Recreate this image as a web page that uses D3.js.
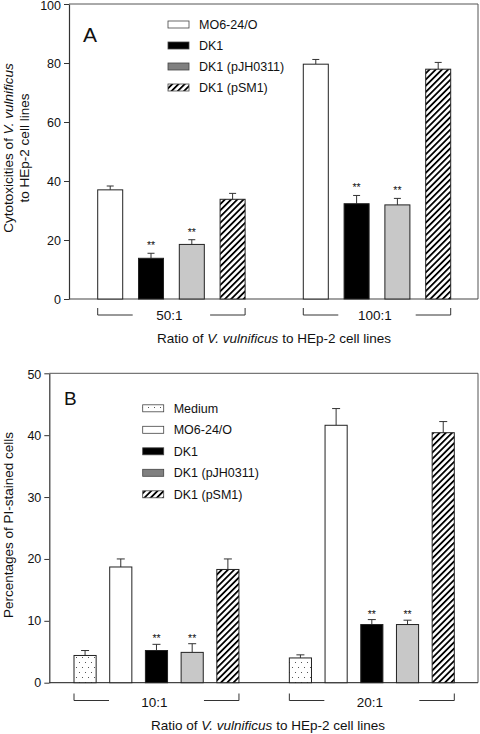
<!DOCTYPE html>
<html><head><meta charset="utf-8">
<script src="https://cdn.jsdelivr.net/npm/d3@7"></script>
<style>
html,body{margin:0;padding:0;background:#fff;}
text{font-family:"Liberation Sans",Arial,sans-serif;fill:#111;}
</style></head>
<body>
<svg id="chart" width="480" height="734"></svg>
<script>
// ---------- data ----------
const groupsA = ["50:1", "100:1"];
const seriesA = ["MO6-24/O", "DK1", "DK1 (pJH0311)", "DK1 (pSM1)"];
const valuesA = [[37.0, 13.8, 18.5, 33.8], [79.6, 32.3, 31.9, 77.9]];
const errorsA = [[1.3, 1.7, 1.6, 2.0], [1.6, 2.8, 2.2, 2.3]];
const starsA = [false, true, true, false];
const ticksA = [0, 20, 40, 60, 80, 100];

const groupsB = ["10:1", "20:1"];
const seriesB = ["Medium", "MO6-24/O", "DK1", "DK1 (pJH0311)", "DK1 (pSM1)"];
const valuesB = [[4.4, 18.7, 5.2, 4.9, 18.3], [4.0, 41.6, 9.4, 9.4, 40.4]];
const errorsB = [[0.8, 1.3, 1.0, 1.4, 1.7], [0.5, 2.7, 0.8, 0.7, 1.8]];
const starsB = [false, false, true, true, false];
const ticksB = [0, 10, 20, 30, 40, 50];

const xTitle = ["Ratio of ", "V. vulnificus", " to HEp-2 cell lines"];

// ---------- styles ----------
const svg = d3.select("#chart");
const defs = svg.append("defs");
const hatch = defs.append("pattern").attr("id", "hatch").attr("patternUnits", "userSpaceOnUse")
  .attr("width", 4.4).attr("height", 4.4).attr("patternTransform", "rotate(45)");
hatch.append("rect").attr("width", 4.4).attr("height", 4.4).attr("fill", "#fff");
hatch.append("rect").attr("x", 0).attr("width", 1.8).attr("height", 4.4).attr("fill", "#000");
const dots = defs.append("pattern").attr("id", "dots").attr("patternUnits", "userSpaceOnUse")
  .attr("width", 6).attr("height", 10);
dots.append("rect").attr("width", 6).attr("height", 10).attr("fill", "#fff");
dots.append("rect").attr("x", 1).attr("y", 2).attr("width", 1).attr("height", 1).attr("fill", "#555");
dots.append("rect").attr("x", 4).attr("y", 7).attr("width", 1).attr("height", 1).attr("fill", "#555");

const barFill = {"Medium": "url(#dots)", "MO6-24/O": "#fff", "DK1": "#000", "DK1 (pJH0311)": "#c8c8c8", "DK1 (pSM1)": "url(#hatch)"};
const legFill = {"Medium": "url(#dots)", "MO6-24/O": "#fff", "DK1": "#000", "DK1 (pJH0311)": "#808080", "DK1 (pSM1)": "url(#hatch)"};

function panel(cfg) {
  const g = svg.append("g");
  const y = d3.scaleLinear().domain([0, cfg.max]).range([cfg.y0, cfg.y1]);
  const gx = d3.scaleBand().domain(cfg.groups).range([cfg.gx0, cfg.gx1]).paddingInner(cfg.gPad).paddingOuter(0);
  const sx = d3.scaleBand().domain(cfg.series).range([0, gx.bandwidth()]).paddingInner(cfg.sPad).paddingOuter(0);

  // frame
  g.append("path").attr("d", `M${cfg.left},${cfg.y1}H${cfg.right}V${cfg.y0}`)
    .attr("fill", "none").attr("stroke", "#555").attr("stroke-width", 1);
  g.append("line").attr("x1", cfg.left).attr("x2", cfg.right).attr("y1", cfg.y0).attr("y2", cfg.y0)
    .attr("stroke", "#444").attr("stroke-width", 1.2);

  // y axis
  const ax = g.append("g").attr("transform", `translate(${cfg.left},0)`)
    .call(d3.axisLeft(y).tickValues(cfg.ticks).tickSize(5).tickSizeOuter(0).tickPadding(3));
  ax.select(".domain").attr("stroke", "#333").attr("stroke-width", 1.2);
  ax.selectAll(".tick line").attr("stroke", "#333");
  ax.selectAll("text").attr("font-size", 12.5).style("font-family", "'Liberation Sans',Arial,sans-serif").attr("fill", "#222");
  // keep the top label inside the picture
  ax.selectAll(".tick").filter(d => d === cfg.max).select("text").attr("dy", "0.45em");

  // bars
  cfg.groups.forEach((grp, gi) => {
    cfg.series.forEach((s, si) => {
      const v = cfg.values[gi][si], e = cfg.errors[gi][si];
      const x = gx(grp) + sx(s), w = sx.bandwidth();
      const cx = x + w / 2;
      g.append("line").attr("x1", cx).attr("x2", cx).attr("y1", y(v)).attr("y2", y(v + e))
        .attr("stroke", "#333").attr("stroke-width", 1);
      g.append("line").attr("x1", cx - cfg.cap / 2).attr("x2", cx + cfg.cap / 2).attr("y1", y(v + e)).attr("y2", y(v + e))
        .attr("stroke", "#333").attr("stroke-width", 1);
      g.append("rect").attr("x", x).attr("y", y(v)).attr("width", w).attr("height", y(0) - y(v))
        .attr("fill", barFill[s]).attr("stroke", "#222").attr("stroke-width", 1);
      if (cfg.stars[si]) {
        g.append("text").attr("x", cx).attr("y", y(v + e) - cfg.starOff).attr("text-anchor", "middle")
          .attr("font-size", 10.5).text("**");
      }
    });
    // group bracket
    const gl = gx(grp), gr = gx(grp) + gx.bandwidth();
    g.append("path").attr("d", `M${gl},${cfg.brY - 7}V${cfg.brY}H${gl + 35}M${gr - 35},${cfg.brY}H${gr}V${cfg.brY - 7}`)
      .attr("fill", "none").attr("stroke", "#333").attr("stroke-width", 1);
    g.append("text").attr("x", (gl + gr) / 2 - 2).attr("y", cfg.brY + cfg.grpDy).attr("text-anchor", "middle")
      .attr("font-size", 13.5).text(grp);
  });

  // x title
  const t = g.append("text").attr("x", cfg.xtX).attr("y", cfg.xtY).attr("text-anchor", "middle").attr("font-size", 13.5);
  t.append("tspan").text(xTitle[0]);
  t.append("tspan").attr("font-style", "italic").text(xTitle[1]);
  t.append("tspan").text(xTitle[2]);

  // legend
  cfg.series.forEach((s, i) => {
    const ly = cfg.legY + i * cfg.legStep;
    g.append("rect").attr("x", cfg.legX).attr("y", ly - 3.5).attr("width", 21).attr("height", 7)
      .attr("fill", legFill[s]).attr("stroke", "#444").attr("stroke-width", 0.8);
    g.append("text").attr("x", cfg.legX + 31).attr("y", ly + 4.5).attr("font-size", 12.5).text(s);
  });

  // panel letter
  g.append("text").attr("x", cfg.letX).attr("y", cfg.letY).attr("font-size", cfg.letSize).text(cfg.letter);
  return g;
}

panel({groups: groupsA, series: seriesA, values: valuesA, errors: errorsA, stars: starsA, ticks: ticksA,
  max: 100, y0: 299, y1: 4, left: 69, right: 478, gx0: 97.7, gx1: 450.7, gPad: 0.283, sPad: 0.387,
  cap: 7, starOff: 4, brY: 315, grpDy: 5, xtX: 274, xtY: 343, legX: 168, legY: 24.5, legStep: 21,
  letX: 83, letY: 42, letSize: 21, letter: "A"});

panel({groups: groupsB, series: seriesB, values: valuesB, errors: errorsB, stars: starsB, ticks: ticksB,
  max: 50, y0: 682.7, y1: 373.3, left: 49.3, right: 478, gx0: 74, gx1: 454.3, gPad: 0.234, sPad: 0.38,
  cap: 8, starOff: 2, brY: 700.5, grpDy: 6.5, xtX: 268, xtY: 730, legX: 142.7, legY: 408.3, legStep: 21.5,
  letX: 64, letY: 405, letSize: 19, letter: "B"});

// y titles
const ytA = svg.append("text").attr("transform", "translate(13,148) rotate(-90)").attr("text-anchor", "middle").attr("font-size", 13.5);
ytA.append("tspan").text("Cytotoxicities of ");
ytA.append("tspan").attr("font-style", "italic").text("V. vulnificus");
svg.append("text").attr("transform", "translate(28.5,148) rotate(-90)").attr("text-anchor", "middle").attr("font-size", 13.5)
  .text("to HEp-2 cell lines");
svg.append("text").attr("transform", "translate(12.5,525) rotate(-90)").attr("text-anchor", "middle").attr("font-size", 13.5)
  .text("Percentages of PI-stained cells");
</script>
</body></html>
